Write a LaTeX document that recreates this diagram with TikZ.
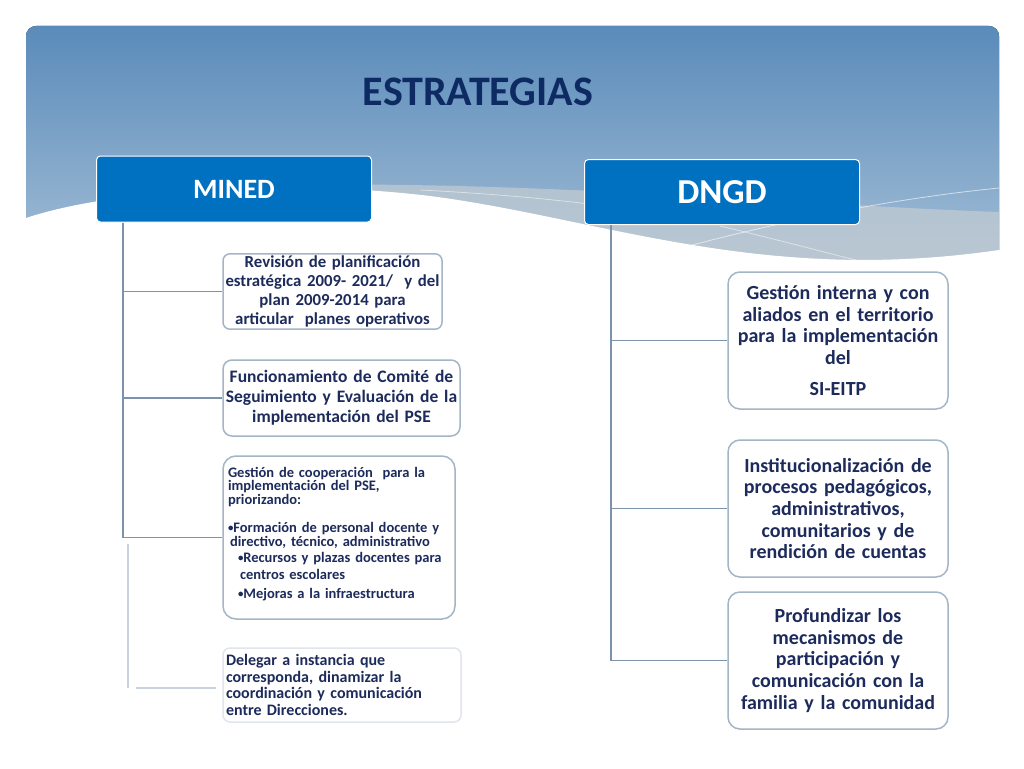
\documentclass[tikz,border=0pt]{standalone}
\usepackage{fontspec}
\setmainfont{Carlito}[WordSpace=0.8]
\usetikzlibrary{calc}
\definecolor{navy}{HTML}{1C2B5B}
\definecolor{titlec}{HTML}{0E2A63}
\definecolor{boxc}{HTML}{A3B5C7}
\definecolor{faintc}{HTML}{E0E6EC}
\definecolor{headc}{HTML}{0070C0}
\definecolor{linec}{HTML}{7D93AB}
\definecolor{fadec}{HTML}{C9D4DF}
\definecolor{panelTop}{HTML}{5A8BBA}
\definecolor{panelBot}{HTML}{B3C9DC}
\definecolor{bandc}{HTML}{C4CCD2}
\newcommand{\smbul}{\raisebox{0.1ex}{\scalebox{0.75}{\textbullet}}}
\tikzset{
  headbox/.style={draw=white, line width=1pt, rounded corners=4pt, fill=headc, text=white, font=\bfseries, inner sep=0pt},
  itembox/.style={draw=boxc, line width=1.5pt, rounded corners=9pt, fill=white, text=navy, font=\bfseries, inner sep=2pt},
  conn/.style={draw=linec, line width=1.8pt},
  fadeconn/.style={draw=fadec, line width=1.8pt},
}
\begin{document}
\begin{tikzpicture}[x=1pt,y=-1pt]
\useasboundingbox (0,0) rectangle (1024,768);
\fill[white] (0,0) rectangle (1024,768);
% header panel
\fill[top color=panelTop, bottom color=panelBot, rounded corners=10pt] (26,26) rectangle (999,320);
% grey band
\fill[bandc, opacity=0.7] (250,186) .. controls (500,178) and (800,205) .. (999,212) -- (999,300) -- (250,300) -- cycle;
% light streaks
\draw[white, opacity=0.6, line width=0.8pt] (630,262) .. controls (760,225) and (880,200) .. (999,188);
\draw[white, opacity=0.5, line width=0.8pt] (720,226) .. controls (800,245) and (860,262) .. (905,272);
\draw[white, opacity=0.5, line width=0.8pt] (420,190) .. controls (520,195) and (620,205) .. (700,222);
% white wave
\fill[white] (20,218) -- (26,218) .. controls (110,190) and (280,178) .. (430,196) .. controls (600,218) and (760,285) .. (999,250) -- (1005,250) -- (1005,330) -- (20,330) -- cycle;
% title
\node[text=titlec, font=\bfseries\fontsize{42}{46}\selectfont] (title) at (478,92) {ESTRATEGIAS};
% heads
\node[headbox, minimum width=275, minimum height=66, font=\bfseries\fontsize{28}{32}\selectfont] (mined) at (234,189) {MINED};
\node[headbox, minimum width=275, minimum height=65, font=\bfseries\fontsize{35}{38}\selectfont] (dngd) at (722,192) {DNGD};
% left boxes
\node[itembox, rounded corners=7pt, minimum width=219, minimum height=71, text width=215, align=center, font=\bfseries\fontsize{16.8}{19}\selectfont] (b1) at (332.5,291.5) {Revisión de planificación\\estratégica 2009- 2021/\ \ y del\\plan 2009-2014 para\\articular\ \ planes operativos};
\node[itembox, minimum width=237, minimum height=76, text width=233, align=center, font=\bfseries\fontsize{17.5}{20}\selectfont] (b2) at (341.5,398) {Funcionamiento de Comité de\\Seguimiento y Evaluación de la\\implementación del PSE};
\node[itembox, rounded corners=13pt, minimum width=232, minimum height=163, text width=222, align=left, font=\bfseries\fontsize{14.5}{13.5}\selectfont] (b3) at (339,537.5) {Gestión de cooperación\ \ para la\\implementación del PSE,\\priorizando:\\[14.5pt]
\smbul Formación de personal docente y\\[0.5pt]
\hspace*{2pt}directivo, técnico, administrativo\\[2.5pt]
\hspace*{10pt}\smbul Recursos y plazas docentes para\\[3.5pt]
\hspace*{12pt}centros escolares\\[5.5pt]
\hspace*{10pt}\smbul Mejoras a la infraestructura\\[-3.5pt]\mbox{}};
\node[itembox, draw=faintc, rounded corners=7pt, minimum width=238, minimum height=74, text width=232, align=left, font=\bfseries\fontsize{16}{16.7}\selectfont] (b4) at (342,685) {Delegar a instancia que\\corresponda, dinamizar la\\coordinación y comunicación\\entre Direcciones.};
% right boxes
\node[itembox, rounded corners=12pt, minimum width=220, minimum height=137, text width=216, align=center, font=\bfseries\fontsize{20}{21.7}\selectfont] (r1) at (838,340.5) {Gestión interna y con\\aliados en el territorio\\para la implementación\\del\\[9pt]SI-EITP};
\node[itembox, rounded corners=12pt, minimum width=220, minimum height=137, text width=216, align=center, font=\bfseries\fontsize{20}{21.7}\selectfont] (r2) at (838,508.5) {Institucionalización de\\procesos pedagógicos,\\administrativos,\\comunitarios y de\\rendición de cuentas};
\node[itembox, rounded corners=12pt, minimum width=220, minimum height=137, text width=216, align=center, font=\bfseries\fontsize{20}{21.7}\selectfont] (r3) at (838,660.5) {Profundizar los\\mecanismos de\\participación y\\comunicación con la\\familia y la comunidad};
% connectors
\coordinate (ml) at ([xshift=27pt]mined.south west);
\draw[conn] (ml) |- (b1.west);
\draw[conn] (ml) |- (b2.west);
\draw[conn] (ml) |- (b3.west);
\coordinate (fa) at (128,544);
\coordinate (fb) at (216,688);
\draw[fadeconn] (fa) -- (fa |- fb);
\draw[fadeconn] (136,688) -- (fb);
\coordinate (dl) at ([xshift=27pt]dngd.south west);
\draw[conn] (dl) |- (r1.west);
\draw[conn] (dl) |- (r2.west);
\draw[conn] (dl) |- (r3.west);
\end{tikzpicture}
\end{document}
